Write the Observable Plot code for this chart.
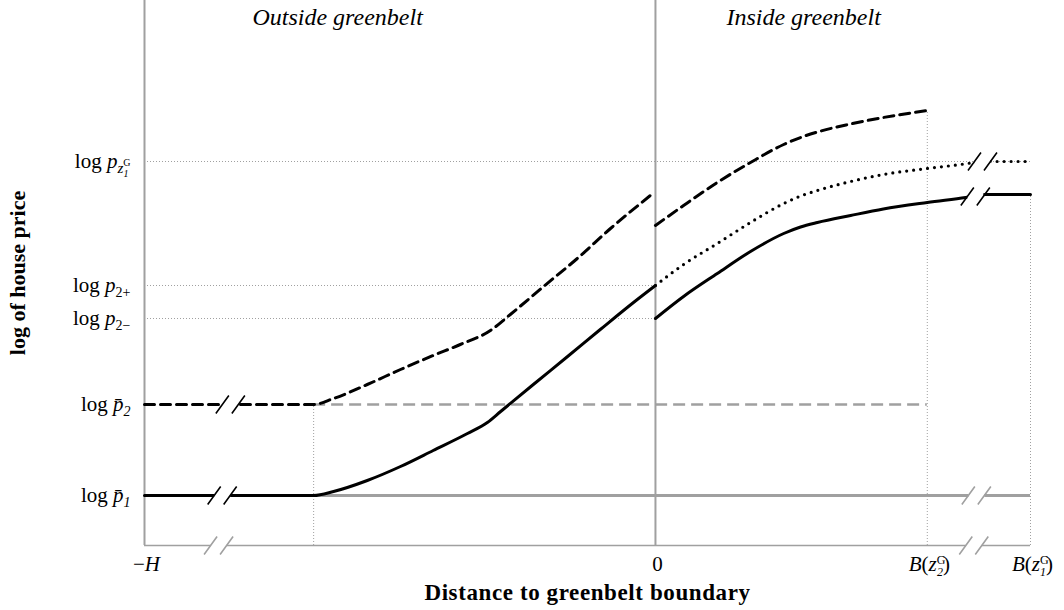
<!DOCTYPE html>
<html>
<head>
<meta charset="utf-8">
<script src="https://cdn.jsdelivr.net/npm/d3@7"></script>
<script src="https://cdn.jsdelivr.net/npm/@observablehq/plot@0.6"></script>
<style>
  html, body { margin: 0; padding: 0; background: white; }
</style>
</head>
<body>
<div id="chart"></div>
<script>
// ---- key levels (log price) and x positions (distance) ----
const pBar1 = 1.0, pBar2 = 2.82, p2minus = 4.54, p2plus = 5.2, pZG1 = 7.68;
const xMinusH = -100, xZero = 0, xBZ2 = 53.2, xBZ1 = 73.4, xKink = -66.9;

// tick values and labels
const yTickValues = [pBar1, pBar2, p2minus, p2plus, pZG1];
const yTickLabels = ["log p\u03041", "log p\u03042", "log p2\u2212", "log p2+", "log pzG1"];
const xTickValues = [xMinusH, xZero, xBZ2, xBZ1];
const xTickLabels = ["\u2212H", "0", "B(zG2)", "B(zG1)"];

const xAxisLabel = "Distance to greenbelt boundary";
const yAxisLabel = "log of house price";
const regionLabels = ["Outside greenbelt", "Inside greenbelt"];
const regionLabelX = [-62.2, 29.0];

// ---- curves ----
const solidOutX = [-100, -66.9, -63.0, -56.4, -49.9, -43.5, -36.8, -32.9, -30.3, -23.9, -17.2, -10.8, -4.3, 0];
const solidOutY = [1.0, 1.0, 1.08, 1.30, 1.58, 1.90, 2.24, 2.46, 2.68, 3.22, 3.78, 4.32, 4.86, 5.2];

const dashedOutX = [-100, -66.9, -63.0, -56.4, -49.9, -43.5, -38.2, -32.3, -28.4, -21.9, -15.3, -8.8, -1.0];
const dashedOutY = [2.82, 2.82, 2.94, 3.22, 3.52, 3.80, 4.02, 4.30, 4.62, 5.18, 5.74, 6.34, 7.0];

const dashedInX = [0, 5.5, 12.1, 18.6, 25.1, 28.4, 31.7, 38.2, 44.6, 53.2];
const dashedInY = [6.4, 6.8, 7.26, 7.66, 8.02, 8.16, 8.27, 8.43, 8.56, 8.7];

const dottedInX = [0, 5.5, 12.1, 18.6, 25.1, 28.4, 31.7, 38.2, 44.6, 53.2, 59.7, 62.6, 65.6, 73.4];
const dottedInY = [5.2, 5.62, 6.04, 6.46, 6.84, 6.99, 7.1, 7.28, 7.42, 7.54, 7.62, 7.66, 7.68, 7.68];

const solidInX = [0, 5.5, 12.1, 18.6, 25.1, 28.4, 31.7, 38.2, 44.6, 53.2, 60.7, 64.6, 73.4];
const solidInY = [4.54, 4.98, 5.44, 5.88, 6.24, 6.37, 6.46, 6.6, 6.73, 6.86, 6.96, 7.02, 7.02];

// guide lines
const hGuideY = [pZG1, p2plus, p2minus];
const hGuideEnd = [xBZ1, xZero, xZero];
const vGuideX = [xKink, xBZ2, xBZ1];
const vGuideTop = [pBar2, 8.7, 7.02];

// axis breaks
const blackBreakX = [-84.8, -83.2, 62.6, 64.0];
const blackBreakY = [pBar1, pBar2, 6.98, pZG1];
const grayBreakX = [-85.5, 62.3, 62.8];
const grayBreakY = [0, 0, pBar1];

// ---- helpers ----
const pts = (xs, ys) => xs.map((x, i) => ({x, y: ys[i]}));
const gapSymbol = {draw(ctx) { ctx.moveTo(-8, -3.6); ctx.lineTo(8, -3.6); ctx.lineTo(8, 3.6); ctx.lineTo(-8, 3.6); ctx.closePath(); }};
const slashSymbol = {draw(ctx) { for (const c of [-8, 8]) { ctx.moveTo(c - 6.5, 9); ctx.lineTo(c + 6.5, -9); } }};

const GRAY = "#a0a0a0";
const dotted = {stroke: GRAY, strokeWidth: 1, strokeDasharray: "1,2"};

const hGuides = hGuideY.map((y, i) => ({y, x2: hGuideEnd[i]}));
const vGuides = vGuideX.map((x, i) => ({x, y2: vGuideTop[i]}));

const svg = Plot.plot({
  width: 1064,
  height: 610,
  marginLeft: 144,
  marginRight: 34,
  marginTop: 0,
  marginBottom: 65,
  x: {domain: [xMinusH, xBZ1], axis: null},
  y: {domain: [0, 10.9], axis: null},
  style: {fontFamily: "'Liberation Serif', serif", background: "white", color: "black"},
  marks: [
    // dotted guides
    Plot.ruleY(hGuides, {y: "y", x1: xMinusH, x2: "x2", ...dotted}),
    Plot.ruleX(vGuides, {x: "x", y1: 0, y2: "y2", ...dotted}),
    // axes frame
    Plot.ruleX([xMinusH], {stroke: GRAY, strokeWidth: 2}),
    Plot.ruleX([xZero], {stroke: GRAY, strokeWidth: 2}),
    Plot.ruleY([0], {x1: xMinusH, x2: xBZ1, stroke: GRAY, strokeWidth: 1.5}),
    // gray reference levels
    Plot.ruleY([pBar2], {x1: xKink, x2: xBZ2, stroke: GRAY, strokeWidth: 2.6, strokeDasharray: "12,6"}),
    Plot.ruleY([pBar1], {x1: xKink, x2: xBZ1, stroke: GRAY, strokeWidth: 3}),
    // black curves
    Plot.line(pts(solidOutX, solidOutY), {x: "x", y: "y", stroke: "black", strokeWidth: 3, curve: "monotone-x"}),
    Plot.line(pts(dashedOutX, dashedOutY), {x: "x", y: "y", stroke: "black", strokeWidth: 3, strokeDasharray: "10,6", curve: "monotone-x"}),
    Plot.line(pts(dashedInX, dashedInY), {x: "x", y: "y", stroke: "black", strokeWidth: 3, strokeDasharray: "10,6", curve: "monotone-x"}),
    Plot.line(pts(dottedInX, dottedInY), {x: "x", y: "y", stroke: "black", strokeWidth: 3.2, strokeDasharray: "0,7", strokeLinecap: "round", curve: "monotone-x"}),
    Plot.line(pts(solidInX, solidInY), {x: "x", y: "y", stroke: "black", strokeWidth: 3, curve: "monotone-x"}),
    // axis breaks
    Plot.dot(pts(grayBreakX, grayBreakY), {x: "x", y: "y", symbol: gapSymbol, r: 1, fill: "white", stroke: "none"}),
    Plot.dot(pts(blackBreakX, blackBreakY), {x: "x", y: "y", symbol: gapSymbol, r: 1, fill: "white", stroke: "none"}),
    Plot.dot(pts(grayBreakX, grayBreakY), {x: "x", y: "y", symbol: slashSymbol, r: 1, fill: "none", stroke: GRAY, strokeWidth: 1.6}),
    Plot.dot(pts(blackBreakX, blackBreakY), {x: "x", y: "y", symbol: slashSymbol, r: 1, fill: "none", stroke: "black", strokeWidth: 1.6}),
    // tick labels
    Plot.text(yTickValues, {y: d => d, text: (d, i) => yTickLabels[i], frameAnchor: "left", dx: -14, textAnchor: "end", lineAnchor: "middle", fontSize: 21, fill: "black"}),
    Plot.text(xTickValues, {x: d => d, text: (d, i) => xTickLabels[i], frameAnchor: "bottom", dy: 19, dx: 2, textAnchor: "middle", lineAnchor: "middle", fontSize: 21, fill: "black"}),
    // region labels
    Plot.text(regionLabels, {x: (d, i) => regionLabelX[i], text: d => d, frameAnchor: "top", dy: 17, textAnchor: "middle", lineAnchor: "middle", fontSize: 24, fontStyle: "italic", fill: "black"}),
    // axis titles
    Plot.text([xAxisLabel], {frameAnchor: "bottom", dy: 47, textAnchor: "middle", lineAnchor: "middle", fontSize: 23, fontWeight: "bold", fill: "black", className: "xtitle"}),
    Plot.text([yAxisLabel], {frameAnchor: "left", dx: -127, rotate: -90, textAnchor: "middle", lineAnchor: "middle", fontSize: 22, fontWeight: "bold", fill: "black"})
  ]
});

// ---- rich-text formatting of math labels ----
const rich = new Map([
  ["log p\u03041", [{t: "log "}, {t: "p\u0304", i: 1}, {t: "1", i: 1, size: 14, off: 5}]],
  ["log p\u03042", [{t: "log "}, {t: "p\u0304", i: 1}, {t: "2", i: 1, size: 14, off: 5}]],
  ["log p2\u2212", [{t: "log "}, {t: "p", i: 1}, {t: "2\u2212", size: 14, off: 5}]],
  ["log p2+", [{t: "log "}, {t: "p", i: 1}, {t: "2+", size: 14, off: 5}]],
  ["log pzG1", [{t: "log "}, {t: "p", i: 1}, {t: "z", i: 1, size: 15, off: 5}, {t: "G", size: 10, off: -2}, {t: "1", i: 1, size: 10, off: 9, dx: -7}]],
  ["\u2212H", [{t: "\u2212"}, {t: "H", i: 1}]],
  ["B(zG2)", [{t: "B", i: 1}, {t: "("}, {t: "z", i: 1}, {t: "G", size: 12, off: -7}, {t: "2", i: 1, size: 12, off: 5, dx: -8.5}, {t: ")", off: 0}]],
  ["B(zG1)", [{t: "B", i: 1}, {t: "("}, {t: "z", i: 1}, {t: "G", size: 12, off: -7}, {t: "1", i: 1, size: 12, off: 5, dx: -8.5}, {t: ")", off: 0}]]
]);

d3.select(svg).selectAll("text").each(function() {
  const segs = rich.get(this.textContent);
  if (!segs) return;
  const t = d3.select(this);
  t.text(null);
  let cur = 0;
  for (const s of segs) {
    const ts = t.append("tspan").text(s.t);
    const off = s.off || 0;
    if (off !== cur) { ts.attr("dy", off - cur); cur = off; }
    if (s.i) ts.attr("font-style", "italic");
    if (s.size) ts.attr("font-size", s.size);
    if (s.dx) ts.attr("dx", s.dx);
  }
});
d3.select(svg).selectAll(".xtitle text").attr("letter-spacing", 0.6);

document.getElementById("chart").appendChild(svg);
</script>
</body>
</html>
